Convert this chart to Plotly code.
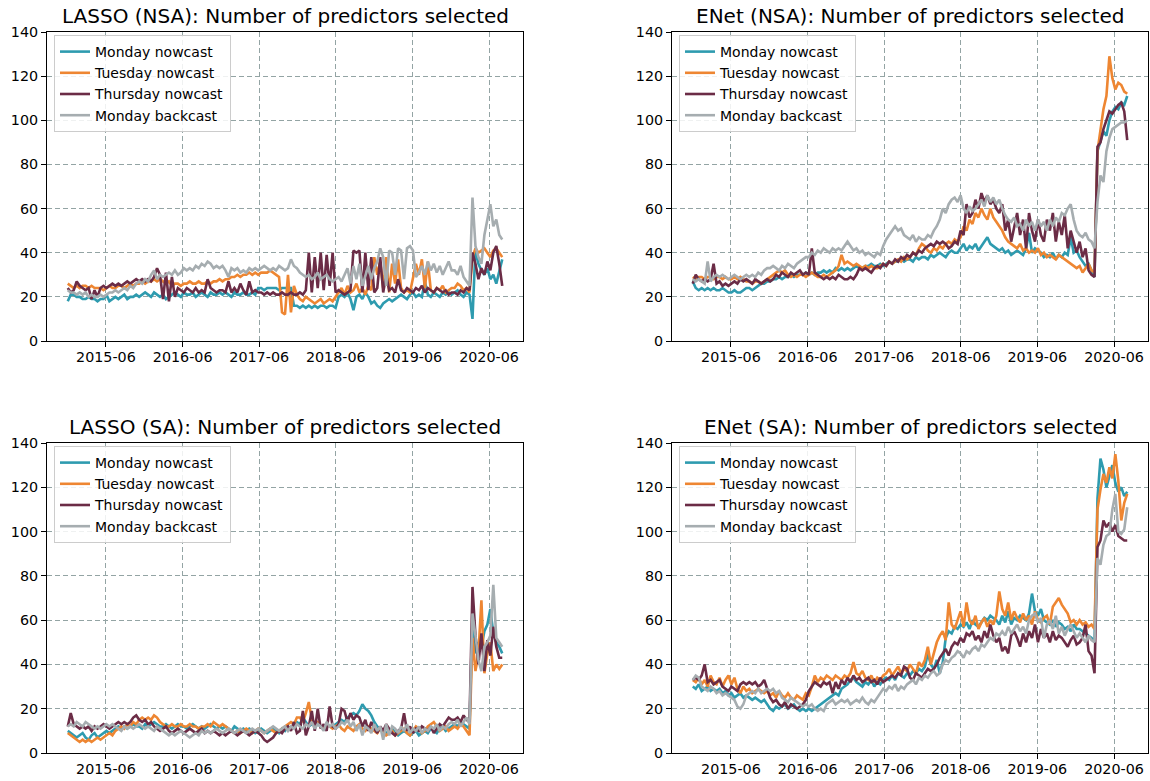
import pandas as pd
import plotly.graph_objects as go

# ---------------- data ----------------
series_names = ["Monday nowcast", "Tuesday nowcast", "Thursday nowcast", "Monday backcast"]
panel_titles = [
    "LASSO (NSA): Number of predictors selected",
    "ENet (NSA): Number of predictors selected",
    "LASSO (SA): Number of predictors selected",
    "ENet (SA): Number of predictors selected",
]
tick_dates = ["2015-06-01", "2016-06-01", "2017-06-01", "2018-06-01", "2019-06-01", "2020-06-01"]
tick_labels = ["2015-06", "2016-06", "2017-06", "2018-06", "2019-06", "2020-06"]
y_ticks = [0, 20, 40, 60, 80, 100, 120, 140]

# roughly bi-weekly observation dates (147 points)
dates = pd.date_range("2014-12-01", "2020-08-03", periods=147)

# LASSO (NSA)
lasso_nsa_mon_now = ([18,21,21,20,20,19,19,20,19,19,18,19,19,21,18,19,20,19,20,21,19,20,20,21,20,21]
    + [22,21,20,22,21,20,21,19,20,21,22,21,20,22,21,21,22,20,21,22,21,20,22,21,21,22]
    + [21,22,21,20,22,21,21,22,21,21,22,21,24,24,23,24,24,24,24,23,24,24,24,24,16,16]
    + [15,16,15,16,15,16,15,16,16,15,16,16,15,20,21,20,22,19,14,20,21,19,22,20,17,18]
    + [16,15,17,18,19,18,19,20,21,20,19,21,22,20,21,20,27,21,20,22,21,20,22,21,22,21]
    + [22,23,21,20,22,21,10,42,35,32,30,33,28,30,26,32,37])
lasso_nsa_tue_now = ([26,25,24,25,24,25,25,24,25,24,24,24,23,24,25,24,24,25,25,24,25,26,25,26,26,27]
    + [26,27,27,28,27,28,27,26,27,25,26,26,25,26,26,27,26,26,27,26,26,27,26,27,27,28]
    + [27,28,28,29,29,30,29,30,30,31,30,31,30,31,31,31,32,31,30,29,13,12,30,13,25,21]
    + [19,18,20,19,18,17,18,19,17,18,19,18,20,22,24,21,25,22,23,26,22,24,21,25,23,38]
    + [30,36,24,38,22,35,26,37,24,22,23,22,28,35,30,37,24,36,23,22,24,23,25,22,23,24]
    + [24,26,25,23,24,22,38,42,40,41,42,40,38,41,42,40,38])
lasso_nsa_thu_now = ([24,22,23,27,25,24,23,24,19,23,20,24,25,24,25,26,25,26,25,26,27,26,27,28,27,28]
    + [27,28,27,29,33,30,19,31,18,29,20,24,23,22,24,23,22,24,22,23,22,28,24,23,22,23]
    + [23,22,27,22,24,22,26,23,21,27,22,23,22,22,21,22,21,22,21,21,22,21,21,22,21,21]
    + [22,21,23,40,22,38,24,40,23,39,25,40,22,23,22,21,22,23,41,40,41,22,40,23,38,22]
    + [24,38,22,30,23,24,22,28,23,22,24,23,22,24,23,25,22,24,23,22,24,23,22,23,21,22]
    + [22,21,23,22,24,23,40,35,28,33,30,36,32,40,43,35,25])
lasso_nsa_mon_back = ([23,22,22,21,22,21,22,20,21,20,20,21,20,21,22,22,23,22,23,24,23,25,24,26,27,26]
    + [28,27,30,32,28,30,29,30,31,30,32,30,31,33,32,33,32,34,33,35,34,36,35,33,34,33]
    + [34,32,29,33,32,33,31,32,31,33,32,33,32,33,34,33,32,33,32,34,33,32,33,37,34,33]
    + [31,30,29,30,28,29,31,28,29,30,28,27,28,29,27,30,33,26,34,28,35,25,30,34,28,33]
    + [36,42,38,25,41,40,30,42,41,28,42,43,41,29,31,34,30,36,32,35,31,34,30,33,36,32]
    + [32,30,34,29,27,25,65,43,38,35,48,55,62,52,55,48,46])

# ENet (NSA)
enet_nsa_mon_now = ([27,24,23,24,23,24,23,24,23,23,24,23,22,22,23,22,22,23,24,24,23,24,25,26,26,27]
    + [27,28,28,29,28,29,29,30,29,30,30,30,31,30,31,30,31,31,32,31,32,31,33,32,33,32]
    + [33,32,33,34,33,33,34,34,35,34,34,35,34,35,36,35,36,36,37,36,37,37,36,38,37,38]
    + [38,37,39,38,39,40,39,38,40,41,40,40,42,44,41,43,42,44,41,43,45,47,44,43,42,41]
    + [42,40,41,39,40,41,40,39,42,49,40,42,41,40,38,39,38,40,37,39,38,40,39,47,40,41]
    + [38,36,34,35,32,29,86,90,95,93,100,104,106,105,108,107,111])
enet_nsa_tue_now = ([29,28,29,29,28,29,29,28,29,29,28,29,28,28,29,28,29,28,27,27,26,27,27,26,27,28]
    + [29,30,31,32,31,32,30,29,30,29,30,30,29,30,31,30,29,29,30,29,30,31,32,34,39,35]
    + [36,35,34,35,34,33,34,33,34,33,33,34,35,34,36,35,36,37,36,38,37,38,40,39,42,44]
    + [43,41,40,42,41,43,42,44,45,44,46,45,47,52,50,55,53,58,56,60,57,55,60,56,54,52]
    + [50,47,45,44,43,42,44,41,42,40,41,40,42,39,40,38,39,38,37,39,38,37,36,35,34,33]
    + [34,31,33,35,32,31,86,96,105,111,129,119,114,117,116,113,112])
enet_nsa_thu_now = ([26,30,28,27,28,27,28,35,26,27,25,26,25,26,27,26,28,27,28,27,26,28,27,26,27,28]
    + [27,28,30,29,31,30,29,31,30,31,32,30,31,30,42,31,30,29,28,29,28,29,28,30,29,28]
    + [28,29,28,30,33,32,33,32,31,33,34,33,35,34,36,35,37,36,38,37,39,38,40,39,41,40]
    + [42,43,44,43,45,44,45,44,42,43,45,44,50,48,62,56,58,64,60,67,63,66,62,64,60,58]
    + [62,50,55,45,52,58,48,55,42,58,50,45,55,48,45,55,50,58,45,54,48,57,42,50,45,40]
    + [45,38,42,32,30,29,88,90,96,100,104,103,105,107,108,104,91])
enet_nsa_mon_back = ([28,27,28,27,26,36,27,29,30,29,30,29,28,29,30,29,28,29,30,29,30,29,31,30,32,33]
    + [33,34,33,32,34,33,35,34,33,35,36,37,38,38,40,39,41,40,42,41,40,42,41,42,41,43]
    + [45,43,41,42,40,41,39,40,39,38,40,39,43,46,48,50,52,50,51,48,47,46,48,45,47,46]
    + [46,48,47,50,52,55,60,58,62,64,65,63,66,60,58,61,59,60,62,64,61,66,63,65,62,64]
    + [60,57,55,54,56,52,53,50,55,52,54,50,55,52,54,50,55,52,56,54,58,57,60,62,55,50]
    + [48,47,49,46,45,42,63,75,72,86,92,96,97,98,99,99,100])

# LASSO (SA)
lasso_sa_mon_now = ([10,9,8,7,8,9,7,6,8,9,7,8,9,10,9,10,11,12,11,12,11,12,13,12,12,11]
    + [13,12,13,14,13,12,12,13,12,11,12,13,12,12,11,12,13,12,11,12,11,12,13,12,11,12]
    + [11,12,11,10,12,11,10,11,10,11,10,9,10,11,10,9,10,11,10,9,11,10,12,11,12,14]
    + [13,16,14,12,13,14,13,12,11,13,12,12,13,14,15,14,16,17,18,17,19,22,20,19,17,14]
    + [12,11,10,9,10,11,9,8,9,10,9,8,9,10,8,9,10,9,11,10,9,11,12,10,11,12]
    + [13,12,14,13,12,11,60,45,50,48,55,58,65,54,50,48,45])
lasso_sa_tue_now = ([9,8,7,6,5,6,5,6,5,6,7,6,7,8,9,8,10,11,12,11,13,12,14,13,15,16]
    + [15,16,15,17,16,14,13,12,12,13,12,12,13,12,12,13,12,12,11,12,12,13,12,14,13,12]
    + [13,12,11,10,9,10,9,10,11,10,9,10,11,10,9,10,11,10,9,10,11,12,13,14,13,16]
    + [16,14,18,23,15,13,14,12,11,13,12,11,12,13,11,10,12,11,10,12,13,11,10,12,11,10]
    + [9,11,10,8,9,10,8,9,10,11,9,8,10,12,11,9,10,12,13,14,12,10,11,12,10,11]
    + [12,11,13,12,10,8,52,37,45,69,36,45,50,37,40,38,40])
lasso_sa_thu_now = ([12,18,13,12,11,12,11,12,10,12,11,12,13,12,11,12,13,14,13,14,13,14,16,17,15,14]
    + [15,13,14,12,11,10,11,12,10,9,10,11,10,9,10,11,10,9,10,11,9,10,9,10,9,8]
    + [9,8,9,10,9,8,9,10,9,8,9,10,9,8,6,5,6,7,9,10,9,11,12,10,14,9]
    + [10,19,8,12,19,10,20,11,13,10,21,12,11,13,20,19,14,18,15,17,16,12,15,10,14,11]
    + [9,12,10,13,11,9,8,10,11,18,10,12,9,11,10,12,11,10,12,9,11,13,12,14,16,15]
    + [15,16,14,17,15,14,75,53,40,54,37,51,44,57,48,43,43])
lasso_sa_mon_back = ([12,13,12,14,13,12,14,13,12,11,12,11,12,13,12,13,12,11,10,12,11,12,11,12,13,12]
    + [11,12,11,10,12,11,10,9,8,9,8,9,10,9,8,7,8,9,8,10,9,10,9,10,11,10]
    + [9,10,11,10,9,10,11,10,9,10,11,10,11,10,9,10,11,12,11,10,11,12,10,12,11,13]
    + [12,11,13,12,14,11,13,12,10,14,12,13,11,12,14,13,15,12,14,10,13,8,12,11,9,13]
    + [10,12,6,13,8,12,11,9,12,10,13,9,11,10,12,9,11,10,12,11,13,10,12,11,13,14]
    + [13,15,12,14,16,13,63,53,42,37,48,50,53,76,52,50,48])

# ENet (SA)
enet_sa_mon_now = ([30,29,31,28,29,30,28,29,28,29,27,28,26,27,25,26,27,25,26,25,24,25,24,23,24,22]
    + [20,19,21,20,21,22,20,21,22,20,19,20,19,20,19,20,21,22,23,24,25,26,27,26,29,30]
    + [31,33,34,32,31,30,32,31,33,30,32,31,33,34,33,35,33,36,35,34,36,35,37,36,38,37]
    + [39,45,40,38,42,36,41,52,55,54,57,56,58,57,59,56,60,58,57,59,61,60,62,61,60,58]
    + [62,59,64,58,61,60,62,61,60,63,72,64,62,65,60,59,58,60,57,59,58,56,57,55,58,56]
    + [56,55,54,53,52,50,115,133,128,120,125,130,122,118,120,116,118])
enet_sa_tue_now = ([33,32,34,31,33,30,35,32,31,34,30,33,35,31,34,29,27,30,28,29,27,28,29,28,27,28]
    + [26,27,25,28,26,25,27,25,24,26,25,24,27,26,30,35,32,34,33,35,34,33,35,34,33,35]
    + [34,36,41,36,35,37,34,33,35,32,34,33,35,36,38,35,37,39,36,38,37,40,38,36,41,39]
    + [42,48,40,45,50,53,55,51,68,58,56,60,64,57,68,60,58,62,56,59,61,57,60,58,62,73]
    + [65,62,68,60,64,61,59,63,60,62,58,64,60,59,61,62,58,66,68,70,67,65,63,59,60,58]
    + [60,58,59,57,58,56,110,119,126,122,129,124,135,123,105,113,117])
enet_sa_thu_now = ([33,34,33,35,40,32,33,31,32,33,30,29,28,30,29,28,31,32,31,32,31,32,30,31,33,29]
    + [25,23,24,22,21,23,20,22,21,20,21,22,24,28,30,32,31,30,32,31,32,27,32,29,33,31]
    + [34,32,35,33,34,32,33,34,32,33,31,34,32,33,34,35,34,36,35,39,38,34,33,36,35,34]
    + [36,38,37,38,40,43,45,47,44,48,50,49,52,50,54,53,55,51,53,50,55,52,58,53,50,52]
    + [46,48,45,53,55,52,48,54,50,55,52,58,50,56,52,54,50,55,51,53,52,50,48,51,53,49]
    + [50,52,58,46,44,36,93,96,105,102,104,100,103,98,97,96,96])
enet_sa_mon_back = ([33,35,34,30,29,28,30,29,27,28,26,27,26,25,24,21,20,22,26,27,28,27,29,27,28,29]
    + [28,29,27,28,25,24,23,25,24,23,22,21,22,21,22,20,19,20,19,22,23,24,22,23,24,23]
    + [24,22,23,24,23,25,23,22,24,23,25,27,29,28,30,29,31,28,30,29,31,32,33,31,34,33]
    + [35,34,36,37,35,36,40,42,41,43,44,46,45,43,46,45,47,48,46,49,48,50,52,51,54,53]
    + [55,53,57,54,56,58,55,57,54,60,62,63,59,61,52,58,60,56,62,54,57,53,56,58,55,52]
    + [54,52,50,53,51,50,88,85,94,98,99,110,117,100,99,101,111])

panel_data = [
    [lasso_nsa_mon_now, lasso_nsa_tue_now, lasso_nsa_thu_now, lasso_nsa_mon_back],
    [enet_nsa_mon_now, enet_nsa_tue_now, enet_nsa_thu_now, enet_nsa_mon_back],
    [lasso_sa_mon_now, lasso_sa_tue_now, lasso_sa_thu_now, lasso_sa_mon_back],
    [enet_sa_mon_now, enet_sa_tue_now, enet_sa_thu_now, enet_sa_mon_back],
]
for p in panel_data:
    for s in p:
        assert len(s) == len(dates), len(s)

# ---------------- style ----------------
colors = ["#2E9BAF", "#EE8632", "#6B2C46", "#A6ADB0"]
FONT = "DejaVu Sans"
W, H = 1150, 781

# panel pixel boxes: (left, right, top, bottom)
boxes = [(47, 523, 32, 341), (672, 1148, 32, 341), (47, 523, 443, 753), (672, 1148, 443, 753)]
x_range = ["2014-08-24", "2020-11-10"]

fig = go.Figure()
for pi, (series_list, box) in enumerate(zip(panel_data, boxes)):
    sfx = "" if pi == 0 else str(pi + 1)
    leg = "legend" + sfx
    for name, vals, col in zip(series_names, series_list, colors):
        fig.add_trace(go.Scatter(
            x=dates, y=vals, name=name, mode="lines",
            line=dict(color=col, width=2.6),
            xaxis="x" + sfx, yaxis="y" + sfx, legend=leg,
        ))
    l, r, t, b = box
    axis_common = dict(
        showline=True, linecolor="black", linewidth=1, mirror=True,
        ticks="outside", ticklen=5, tickwidth=1, tickcolor="black",
        showgrid=True, gridcolor="#93A4A4", gridwidth=1, griddash="5px,3px",
        tickfont=dict(family=FONT, size=14.3, color="black"), zeroline=False,
        automargin=False,
    )
    fig.update_layout(**{
        "xaxis" + sfx: dict(axis_common, domain=[l / W, r / W], anchor="y" + sfx,
                             range=x_range, type="date", ticklabelstandoff=-2,
                             tickvals=tick_dates, ticktext=tick_labels),
        "yaxis" + sfx: dict(axis_common, domain=[1 - b / H, 1 - t / H], anchor="x" + sfx,
                             range=[0, 140], tickvals=y_ticks),
        leg: dict(x=(l + 7) / W, y=1 - (t + 3) / H, xanchor="left", yanchor="top",
                  bgcolor="rgba(255,255,255,0.85)", bordercolor="#CCCCCC", borderwidth=1,
                  font=dict(family=FONT, size=14, color="black"),
                  itemwidth=30, tracegroupgap=0),
    })
    fig.add_annotation(text=panel_titles[pi], xref="paper", yref="paper",
                       x=(l + r) / 2 / W, y=1 - (t - 16) / H, xanchor="center", yanchor="middle",
                       showarrow=False, font=dict(family=FONT, size=20, color="black"))

fig.update_layout(
    width=W, height=H, margin=dict(l=0, r=0, t=0, b=0, autoexpand=False),
    paper_bgcolor="white", plot_bgcolor="white",
    font=dict(family=FONT, size=14, color="black"),
    showlegend=True,
)
fig.write_html("out.html")
